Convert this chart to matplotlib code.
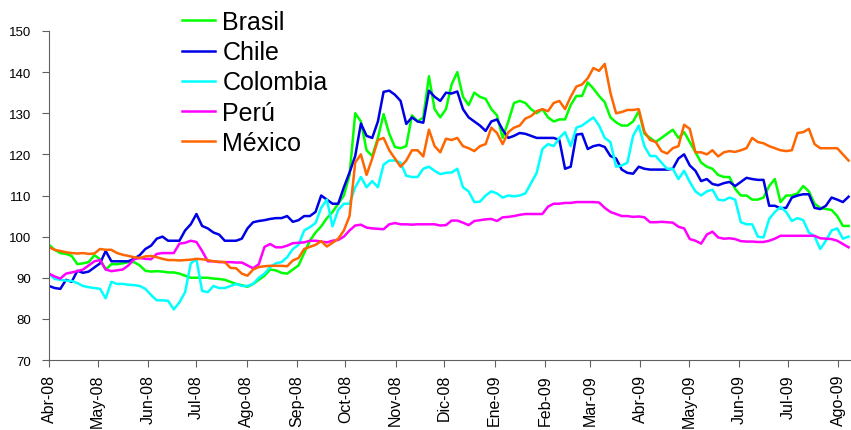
import numpy as np
import pandas as pd
import matplotlib
matplotlib.use("Agg")
import matplotlib.pyplot as plt

plt.rcParams['font.family'] = ['Liberation Sans', 'DejaVu Sans']

# datos cada 3.5 dias desde el 1 de abril de 2008
fechas = pd.date_range('2008-04-01', periods=142, freq='84h')

brasil = [98, 96.8, 96, 95.8, 95.3, 93.3, 93.5, 93.8, 95.5, 94.5,
          92, 93.3, 93.3, 93.5, 93.8, 93.8, 93, 91.7, 91.5, 91.6,
          91.5, 91.3, 91.3, 91, 90.5, 90, 90, 90, 90, 89.8,
          89.7, 89.5, 89, 88.5, 88.2, 87.8, 88.5, 89.5, 90.5, 92,
          91.8, 91.2, 91, 92, 93, 96, 99, 101, 102.5, 104.5,
          106, 108, 110, 115, 130, 128, 121, 119.6, 124, 129.8,
          125, 121.8, 121.5, 122, 129.5, 128, 129, 139, 131, 129,
          131, 137, 140, 134, 132, 135, 134, 133.5, 131, 129.5,
          124, 128, 132.5, 133, 132.5, 131, 130, 131, 129, 128,
          128.5, 128.5, 132, 134.2, 134.2, 137.5, 136, 134.2, 132.7, 129,
          127.8, 127, 127, 128, 130.5, 125, 124, 123, 124, 125,
          126, 124, 125.4, 123, 120.5, 118, 117, 116.5, 115, 114.5,
          114.5, 111.6, 110, 110, 109, 109, 109.5, 112.3, 114, 108.4,
          110, 110, 110.5, 112.3, 111, 108, 107, 106.7, 106.5, 105,
          102.6, 102.6]
chile = [88, 87.5, 87.3, 89.5, 89, 91.7, 91.2, 91.5, 92.5, 93.5,
         96.5, 94, 94, 94, 94, 94.6, 95.5, 97, 97.8, 99.5,
         100, 99, 99, 99, 101.5, 103, 105.5, 102.6, 102, 101,
         100.5, 99, 99, 99, 99.5, 102, 103.5, 103.8, 104, 104.3,
         104.5, 104.5, 105, 103.6, 104, 105, 105, 106, 110, 109,
         108, 108, 112, 115.6, 119.6, 127.5, 124.5, 124, 128, 135.2,
         135.5, 134.5, 133, 127.4, 129, 128, 127.7, 135.5, 134, 133,
         135, 134.8, 135.3, 131, 129, 128, 127, 125.7, 128, 128.5,
         126, 124, 124.5, 125.2, 125, 124.5, 124, 124, 124, 124,
         123.5, 116.5, 117, 124.8, 125, 121.3, 122, 122.3, 121.8, 119.6,
         119, 116.3, 115.5, 115.3, 117, 116.5, 116.3, 116.3, 116.3, 116.3,
         116.5, 119, 120, 117.3, 116, 113.5, 114, 112.8, 112.5, 113,
         113.3, 112.3, 113.3, 114.3, 114, 113.8, 113.8, 107.5, 107.5, 106.9,
         107, 109.5, 110, 110.3, 110.3, 107, 106.7, 107.5, 109.5, 109,
         108.4, 109.7]
colombia = [91, 89.7, 89.5, 89.3, 89.2, 88.7, 88, 87.7, 87.5, 87.3,
            85, 89, 88.5, 88.5, 88.3, 88.2, 88, 87.3, 85.8, 84.5,
            84.5, 84.4, 82.3, 84, 86.5, 93.5, 94.5, 86.8, 86.5, 88,
            87.5, 87.5, 88, 88.5, 88, 88, 88.5, 90, 91, 92.6,
            93.5, 93.8, 95, 97, 98, 101.5, 102.3, 103.3, 107, 109,
            102.5, 106.5, 108, 108, 112, 114.5, 112, 113.5, 112, 117.5,
            118.5, 118.5, 118, 114.8, 114.5, 114.5, 116.5, 117, 116, 115.2,
            115.5, 115.6, 116.5, 112, 111, 108.4, 108.5, 110, 111, 110.5,
            109.5, 110, 109.8, 110, 110.5, 113, 115.5, 121.3, 122.5, 122,
            124, 125.4, 122, 126.5, 127, 128, 129, 127, 124, 123,
            117, 117.3, 118, 124.5, 127, 122, 119.6, 119.6, 118, 116.5,
            116.5, 114, 116, 113.3, 111, 110, 111, 111.4, 109, 108.8,
            109.5, 109, 103.5, 103, 103, 100, 99.8, 104.3, 106, 107.2,
            106, 103.8, 104.5, 104, 101, 100.1, 97, 99, 101.5, 102,
            99.5, 100]
peru = [91, 90.3, 89.8, 91, 91.3, 91.6, 92, 93, 94, 94.3,
        92, 91.6, 91.8, 92, 93, 94.5, 94.8, 94.6, 94.5, 95.8,
        96, 96, 96, 98.3, 98.5, 99, 98.7, 96.5, 94, 94,
        93.8, 93.8, 93.8, 93.7, 93.7, 93, 92.3, 93.3, 97.5, 98.2,
        97.4, 97.4, 97.8, 98.4, 98.5, 98.6, 99, 99, 98.8, 98.6,
        99, 99.2, 100, 101.5, 102.7, 102.9, 102.2, 102, 101.9, 101.8,
        103, 103.3, 103, 103, 102.9, 103, 103, 103, 103, 102.7,
        102.8, 103.9, 103.9, 103.4, 102.8, 103.8, 104, 104.2, 104.3, 103.8,
        104.7, 104.8, 105, 105.3, 105.5, 105.5, 105.5, 105.5, 107.3, 108,
        108, 108.2, 108.2, 108.4, 108.4, 108.4, 108.4, 108.3, 107, 106,
        105.5, 105, 105, 104.8, 104.9, 104.7, 103.5, 103.5, 103.6, 103.5,
        103.4, 102.4, 102, 99.4, 99, 98.3, 100.5, 101.2, 99.8, 99.5,
        99.6, 99.4, 98.9, 98.8, 98.8, 98.7, 98.7, 99, 99.5, 100.2,
        100.2, 100.2, 100.2, 100.2, 100.2, 100.2, 99.6, 99.5, 99.4, 99,
        98.2, 97.4]
mexico = [97.4, 96.8, 96.5, 96.2, 96, 95.9, 96, 95.8, 95.9, 97,
          96.8, 96.8, 96, 95.6, 95.3, 95, 94.8, 95.2, 95.3, 95,
          94.6, 94.3, 94.3, 94.2, 94.3, 94.4, 94.6, 94.5, 94.3, 94,
          93.9, 93.8, 92.4, 92.3, 91, 90.5, 92, 92.6, 92.8, 92.9,
          92.9, 92.9, 92.8, 94.2, 94.8, 97, 97.5, 98, 98.9, 97.6,
          98.5, 99.5, 101.5, 105, 118, 120, 115, 119, 123.5, 124,
          121, 119, 117, 118.5, 121, 121, 119.5, 126, 122, 120.5,
          123.8, 123.5, 124, 122, 121.5, 120.8, 122, 122.5, 126.5, 125.2,
          122.5, 125.4, 126.5, 127, 128.7, 129.3, 130.5, 131, 130.5, 132.5,
          133, 131, 134, 136.5, 137, 138.5, 141, 140.3, 142, 135,
          130, 130.3, 130.8, 130.8, 131, 125.5, 123.5, 123, 120.8, 120.2,
          121.5, 122, 127.2, 126.2, 120.5, 120.5, 120, 121, 119.5, 120.5,
          120.8, 120.6, 121, 121.5, 124, 123, 122.7, 122, 121.5, 121,
          120.8, 121, 125.2, 125.4, 126.2, 122.5, 121.5, 121.5, 121.5, 121.5,
          120, 118.5]

paises = ['Brasil', 'Chile', 'Colombia', 'Perú', 'México']
series = [brasil, chile, colombia, peru, mexico]
colores = ['#00ff00', '#0000e6', '#00ffff', '#ff00ff', '#ff6600']

meses = ['Abr-08', 'May-08', 'Jun-08', 'Jul-08', 'Ago-08', 'Sep-08', 'Oct-08',
         'Nov-08', 'Dic-08', 'Ene-09', 'Feb-09', 'Mar-09', 'Abr-09', 'May-09',
         'Jun-09', 'Jul-09', 'Ago-09']
inicio_meses = pd.date_range('2008-04-01', periods=len(meses), freq='MS')

fig = plt.figure(figsize=(8.51, 4.31), dpi=100)
ax = fig.add_axes([49 / 851, 1 - 361 / 431, 1 - 49 / 851, (361 - 32) / 431])

for nombre, vals, c in zip(paises, series, colores):
    ax.plot(fechas, vals, color=c, lw=1.8, label=nombre)

ax.set_ylim(70, 150)
ax.set_yticks(range(70, 151, 10))
ax.set_xlim(pd.Timestamp('2008-04-01'), pd.Timestamp('2009-08-09'))
ax.set_xticks(inicio_meses)
ax.set_xticklabels(meses, rotation=90, fontsize=11.5)
ax.tick_params(axis='y', labelsize=9.5, length=5, pad=8, color='#606060')
ax.tick_params(axis='x', length=5, pad=5, color='#606060')

for s in ['top', 'right']:
    ax.spines[s].set_visible(False)
for s in ['left', 'bottom']:
    ax.spines[s].set_color('#606060')

ax.legend(loc='upper left', bbox_to_anchor=(182 / 851, 1 - 11 / 431),
          bbox_transform=fig.transFigure, frameon=False, fontsize=18,
          borderpad=0, borderaxespad=0, labelspacing=0.25,
          handlelength=1.3, handletextpad=0.32)

fig.savefig('out.png', dpi=100)
